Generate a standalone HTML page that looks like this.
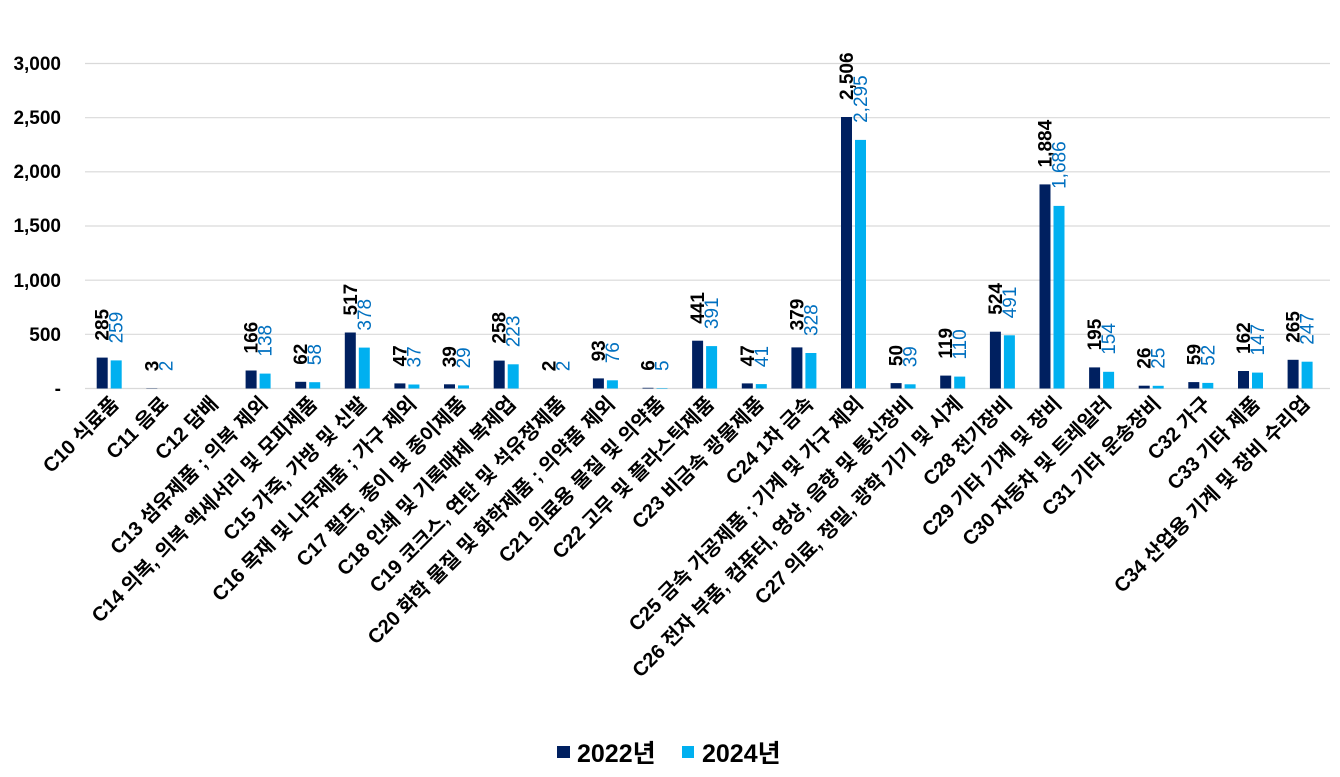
<!DOCTYPE html>
<html><head><meta charset="utf-8"><style>
html,body{margin:0;padding:0;background:#fff;}
svg{display:block;font-family:"Liberation Sans","Noto Sans CJK KR",sans-serif;}
.t{font-size:19px;font-weight:bold;fill:#000;text-anchor:end}
.c{font-size:20px;font-weight:bold;fill:#000;text-anchor:end}
.d{font-size:19px;font-weight:bold;fill:#000}
.l{font-size:19px;fill:#0070C0}
.bd{fill:#002060}.bl{fill:#00B0F0}
</style></head><body>
<svg width="1340" height="777" viewBox="0 0 1340 777">
<g stroke="#d9d9d9" stroke-width="1.2">
<line x1="85" x2="1330" y1="63.5" y2="63.5"/><line x1="85" x2="1330" y1="117.7" y2="117.7"/><line x1="85" x2="1330" y1="171.8" y2="171.8"/><line x1="85" x2="1330" y1="226" y2="226"/><line x1="85" x2="1330" y1="280.2" y2="280.2"/><line x1="85" x2="1330" y1="334.3" y2="334.3"/><line x1="85" x2="1330" y1="388.5" y2="388.5"/>
</g>
<text class="t" x="61" y="70">3,000</text><text class="t" x="61" y="124">2,500</text><text class="t" x="61" y="178">2,000</text><text class="t" x="61" y="232">1,500</text><text class="t" x="61" y="287">1,000</text><text class="t" x="61" y="341">500</text><text class="t" x="61" y="395">-</text>

<g transform="translate(96.7,0)"><rect class="bd" x="0" width="11" y="357.6" height="30.9"/><rect class="bl" x="14" width="11" y="360.4" height="28.1"/><text class="d" transform="translate(12,340.6) rotate(-90)">285</text><text class="l" transform="translate(26,343.4) rotate(-90)">259</text></g>
<g transform="translate(146.3,0)"><rect class="bd" x="0" width="11" y="388.2" height="0.3"/><text class="d" transform="translate(12,371.2) rotate(-90)">3</text><text class="l" transform="translate(26,371.3) rotate(-90)">2</text></g>
<g transform="translate(245.6,0)"><rect class="bd" x="0" width="11" y="370.5" height="18"/><rect class="bl" x="14" width="11" y="373.6" height="14.9"/><text class="d" transform="translate(12,353.5) rotate(-90)">166</text><text class="l" transform="translate(26,356.6) rotate(-90)">138</text></g>
<g transform="translate(295.2,0)"><rect class="bd" x="0" width="11" y="381.8" height="6.7"/><rect class="bl" x="14" width="11" y="382.2" height="6.3"/><text class="d" transform="translate(12,364.8) rotate(-90)">62</text><text class="l" transform="translate(26,365.2) rotate(-90)">58</text></g>
<g transform="translate(344.8,0)"><rect class="bd" x="0" width="11" y="332.5" height="56"/><rect class="bl" x="14" width="11" y="347.6" height="40.9"/><text class="d" transform="translate(12,315.5) rotate(-90)">517</text><text class="l" transform="translate(26,330.6) rotate(-90)">378</text></g>
<g transform="translate(394.4,0)"><rect class="bd" x="0" width="11" y="383.4" height="5.1"/><rect class="bl" x="14" width="11" y="384.5" height="4"/><text class="d" transform="translate(12,366.4) rotate(-90)">47</text><text class="l" transform="translate(26,367.5) rotate(-90)">37</text></g>
<g transform="translate(444,0)"><rect class="bd" x="0" width="11" y="384.3" height="4.2"/><rect class="bl" x="14" width="11" y="385.4" height="3.1"/><text class="d" transform="translate(12,367.3) rotate(-90)">39</text><text class="l" transform="translate(26,368.4) rotate(-90)">29</text></g>
<g transform="translate(493.7,0)"><rect class="bd" x="0" width="11" y="360.6" height="27.9"/><rect class="bl" x="14" width="11" y="364.3" height="24.2"/><text class="d" transform="translate(12,343.6) rotate(-90)">258</text><text class="l" transform="translate(26,347.3) rotate(-90)">223</text></g>
<g transform="translate(543.3,0)"><text class="d" transform="translate(12,371.3) rotate(-90)">2</text><text class="l" transform="translate(26,371.3) rotate(-90)">2</text></g>
<g transform="translate(592.9,0)"><rect class="bd" x="0" width="11" y="378.4" height="10.1"/><rect class="bl" x="14" width="11" y="380.3" height="8.2"/><text class="d" transform="translate(12,361.4) rotate(-90)">93</text><text class="l" transform="translate(26,363.3) rotate(-90)">76</text></g>
<g transform="translate(642.5,0)"><rect class="bd" x="0" width="11" y="387.8" height="0.7"/><rect class="bl" x="14" width="11" y="388" height="0.5"/><text class="d" transform="translate(12,370.8) rotate(-90)">6</text><text class="l" transform="translate(26,371) rotate(-90)">5</text></g>
<g transform="translate(692.1,0)"><rect class="bd" x="0" width="11" y="340.7" height="47.8"/><rect class="bl" x="14" width="11" y="346.1" height="42.4"/><text class="d" transform="translate(12,323.7) rotate(-90)">441</text><text class="l" transform="translate(26,329.1) rotate(-90)">391</text></g>
<g transform="translate(741.8,0)"><rect class="bd" x="0" width="11" y="383.4" height="5.1"/><rect class="bl" x="14" width="11" y="384.1" height="4.4"/><text class="d" transform="translate(12,366.4) rotate(-90)">47</text><text class="l" transform="translate(26,367.1) rotate(-90)">41</text></g>
<g transform="translate(791.4,0)"><rect class="bd" x="0" width="11" y="347.4" height="41.1"/><rect class="bl" x="14" width="11" y="353" height="35.5"/><text class="d" transform="translate(12,330.4) rotate(-90)">379</text><text class="l" transform="translate(26,336) rotate(-90)">328</text></g>
<g transform="translate(841,0)"><rect class="bd" x="0" width="11" y="117" height="271.5"/><rect class="bl" x="14" width="11" y="139.9" height="248.6"/><text class="d" transform="translate(12,100) rotate(-90)">2,506</text><text class="l" transform="translate(26,122.9) rotate(-90)">2,295</text></g>
<g transform="translate(890.6,0)"><rect class="bd" x="0" width="11" y="383.1" height="5.4"/><rect class="bl" x="14" width="11" y="384.3" height="4.2"/><text class="d" transform="translate(12,366.1) rotate(-90)">50</text><text class="l" transform="translate(26,367.3) rotate(-90)">39</text></g>
<g transform="translate(940.2,0)"><rect class="bd" x="0" width="11" y="375.6" height="12.9"/><rect class="bl" x="14" width="11" y="376.6" height="11.9"/><text class="d" transform="translate(12,358.6) rotate(-90)">119</text><text class="l" transform="translate(26,359.6) rotate(-90)">110</text></g>
<g transform="translate(989.9,0)"><rect class="bd" x="0" width="11" y="331.7" height="56.8"/><rect class="bl" x="14" width="11" y="335.3" height="53.2"/><text class="d" transform="translate(12,314.7) rotate(-90)">524</text><text class="l" transform="translate(26,318.3) rotate(-90)">491</text></g>
<g transform="translate(1039.5,0)"><rect class="bd" x="0" width="11" y="184.4" height="204.1"/><rect class="bl" x="14" width="11" y="205.9" height="182.6"/><text class="d" transform="translate(12,167.4) rotate(-90)">1,884</text><text class="l" transform="translate(26,188.9) rotate(-90)">1,686</text></g>
<g transform="translate(1089.1,0)"><rect class="bd" x="0" width="11" y="367.4" height="21.1"/><rect class="bl" x="14" width="11" y="371.8" height="16.7"/><text class="d" transform="translate(12,350.4) rotate(-90)">195</text><text class="l" transform="translate(26,354.8) rotate(-90)">154</text></g>
<g transform="translate(1138.7,0)"><rect class="bd" x="0" width="11" y="385.7" height="2.8"/><rect class="bl" x="14" width="11" y="385.8" height="2.7"/><text class="d" transform="translate(12,368.7) rotate(-90)">26</text><text class="l" transform="translate(26,368.8) rotate(-90)">25</text></g>
<g transform="translate(1188.3,0)"><rect class="bd" x="0" width="11" y="382.1" height="6.4"/><rect class="bl" x="14" width="11" y="382.9" height="5.6"/><text class="d" transform="translate(12,365.1) rotate(-90)">59</text><text class="l" transform="translate(26,365.9) rotate(-90)">52</text></g>
<g transform="translate(1238,0)"><rect class="bd" x="0" width="11" y="371" height="17.5"/><rect class="bl" x="14" width="11" y="372.6" height="15.9"/><text class="d" transform="translate(12,354) rotate(-90)">162</text><text class="l" transform="translate(26,355.6) rotate(-90)">147</text></g>
<g transform="translate(1287.6,0)"><rect class="bd" x="0" width="11" y="359.8" height="28.7"/><rect class="bl" x="14" width="11" y="361.7" height="26.8"/><text class="d" transform="translate(12,342.8) rotate(-90)">265</text><text class="l" transform="translate(26,344.7) rotate(-90)">247</text></g>

<text class="c" transform="translate(120,405) rotate(-45)">C10 식료품</text>
<text class="c" transform="translate(169.6,405) rotate(-45)">C11 음료</text>
<text class="c" transform="translate(219.2,405) rotate(-45)">C12 담배</text>
<text class="c" transform="translate(268.9,405) rotate(-45)">C13 섬유제품 ; 의복 제외</text>
<text class="c" transform="translate(318.5,405) rotate(-45)">C14 의복, 의복 액세서리 및 모피제품</text>
<text class="c" transform="translate(368.1,405) rotate(-45)">C15 가죽, 가방 및 신발</text>
<text class="c" transform="translate(417.7,405) rotate(-45)">C16 목재 및 나무제품 ; 가구 제외</text>
<text class="c" transform="translate(467.3,405) rotate(-45)">C17 펄프, 종이 및 종이제품</text>
<text class="c" transform="translate(517,405) rotate(-45)">C18 인쇄 및 기록매체 복제업</text>
<text class="c" transform="translate(566.6,405) rotate(-45)">C19 코크스, 연탄 및 석유정제품</text>
<text class="c" transform="translate(616.2,405) rotate(-45)">C20 화학 물질 및 화학제품 ; 의약품 제외</text>
<text class="c" transform="translate(665.8,405) rotate(-45)">C21 의료용 물질 및 의약품</text>
<text class="c" transform="translate(715.4,405) rotate(-45)">C22 고무 및 플라스틱제품</text>
<text class="c" transform="translate(765.1,405) rotate(-45)">C23 비금속 광물제품</text>
<text class="c" transform="translate(814.7,405) rotate(-45)">C24 1차 금속</text>
<text class="c" transform="translate(864.3,405) rotate(-45)">C25 금속 가공제품 ; 기계 및 가구 제외</text>
<text class="c" transform="translate(913.9,405) rotate(-45)">C26 전자 부품, 컴퓨터, 영상, 음향 및 통신장비</text>
<text class="c" transform="translate(963.5,405) rotate(-45)">C27 의료, 정밀, 광학 기기 및 시계</text>
<text class="c" transform="translate(1013.2,405) rotate(-45)">C28 전기장비</text>
<text class="c" transform="translate(1062.8,405) rotate(-45)">C29 기타 기계 및 장비</text>
<text class="c" transform="translate(1112.4,405) rotate(-45)">C30 자동차 및 트레일러</text>
<text class="c" transform="translate(1162,405) rotate(-45)">C31 기타 운송장비</text>
<text class="c" transform="translate(1211.6,405) rotate(-45)">C32 가구</text>
<text class="c" transform="translate(1261.3,405) rotate(-45)">C33 기타 제품</text>
<text class="c" transform="translate(1310.9,405) rotate(-45)">C34 산업용 기계 및 장비 수리업</text>

<rect class="bd" x="557" y="746" width="13" height="12"/>
<text x="577" y="762" style="font-size:25px;font-weight:bold">2022년</text>
<rect class="bl" x="682" y="746" width="12" height="12"/>
<text x="702" y="762" style="font-size:25px;font-weight:bold">2024년</text>
</svg>
</body></html>
